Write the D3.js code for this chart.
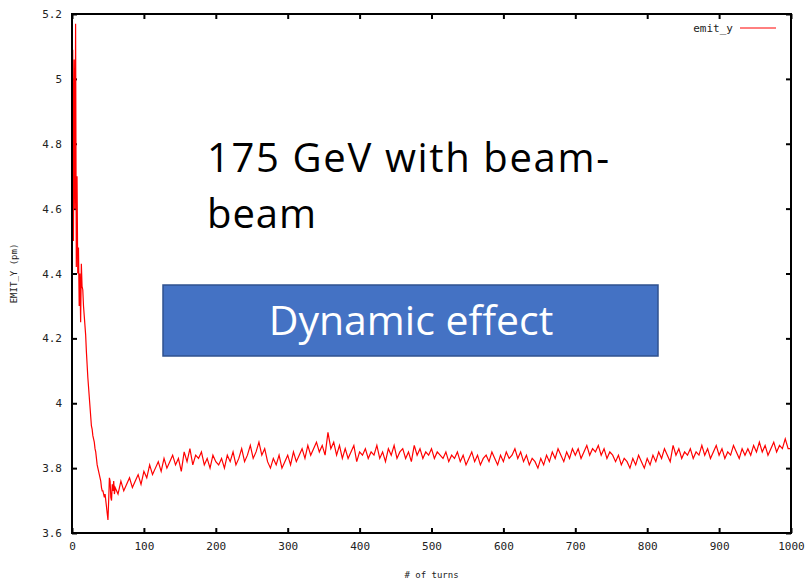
<!DOCTYPE html>
<html>
<head>
<meta charset="utf-8">
<script src="https://cdn.jsdelivr.net/npm/d3@7"></script>
<style>
  body { margin: 0; background: #fff; }
  svg { display: block; }
  .tick text { font-family: "DejaVu Sans Mono", monospace; font-size: 11px; fill: #222; }
</style>
</head>
<body>
<div id="chart"></div>
<script>
// emit_y vs turns
// turns 0..59, one value per turn
var emitEarly = [3.90, 5.09, 4.50, 5.06, 4.60, 5.17, 4.42, 4.70, 4.40, 4.48,
    4.30, 4.40, 4.25, 4.43, 4.36, 4.35, 4.30, 4.27, 4.24, 4.21,
    4.16, 4.12, 4.08, 4.05, 4.02, 3.99, 3.96, 3.93, 3.92, 3.90,
    3.89, 3.88, 3.86, 3.85, 3.83, 3.81, 3.80, 3.79, 3.78, 3.77,
    3.76, 3.74, 3.73, 3.73, 3.72, 3.71, 3.72, 3.70, 3.68, 3.66,
    3.64, 3.70, 3.77, 3.76, 3.71, 3.70, 3.75, 3.73, 3.76, 3.72];

// turns 60..1000, every 4 turns
var lateStart = 60, lateStep = 4;
var emitLate = [3.74, 3.72, 3.76, 3.73, 3.75, 3.77, 3.74, 3.76, 3.78, 3.75,
    3.79, 3.77, 3.81, 3.78, 3.80, 3.82, 3.79, 3.83, 3.80, 3.82,
    3.84, 3.81, 3.83, 3.79, 3.85, 3.82, 3.86, 3.81, 3.84, 3.83,
    3.85, 3.81, 3.83, 3.80, 3.84, 3.82, 3.81, 3.83, 3.80, 3.84,
    3.82, 3.85, 3.81, 3.83, 3.86, 3.82, 3.84, 3.87, 3.83, 3.85,
    3.88, 3.84, 3.86, 3.82, 3.80, 3.83, 3.81, 3.84, 3.80, 3.82,
    3.84, 3.81, 3.85, 3.82, 3.84, 3.86, 3.83, 3.87, 3.84, 3.86,
    3.88, 3.85, 3.87, 3.84, 3.91, 3.86, 3.88, 3.84, 3.87, 3.83,
    3.86, 3.83, 3.85, 3.87, 3.82, 3.85, 3.84, 3.86, 3.83, 3.85,
    3.84, 3.87, 3.83, 3.85, 3.82, 3.86, 3.84, 3.87, 3.83, 3.85,
    3.86, 3.83, 3.85, 3.82, 3.87, 3.84, 3.86, 3.83, 3.85, 3.84,
    3.86, 3.83, 3.85, 3.84, 3.83, 3.85, 3.82, 3.84, 3.83, 3.85,
    3.82, 3.84, 3.81, 3.83, 3.85, 3.82, 3.84, 3.81, 3.83, 3.84,
    3.82, 3.85, 3.83, 3.81, 3.84, 3.82, 3.85, 3.83, 3.84, 3.86,
    3.83, 3.85, 3.82, 3.84, 3.81, 3.83, 3.82, 3.80, 3.83, 3.81,
    3.84, 3.82, 3.85, 3.83, 3.86, 3.84, 3.82, 3.85, 3.83, 3.86,
    3.84, 3.86, 3.83, 3.85, 3.87, 3.84, 3.86, 3.85, 3.87, 3.84,
    3.86, 3.83, 3.85, 3.84, 3.82, 3.84, 3.81, 3.83, 3.82, 3.80,
    3.83, 3.81, 3.84, 3.82, 3.80, 3.83, 3.81, 3.84, 3.82, 3.85,
    3.83, 3.86, 3.84, 3.82, 3.87, 3.84, 3.86, 3.83, 3.85, 3.84,
    3.86, 3.83, 3.85, 3.84, 3.87, 3.84, 3.86, 3.83, 3.85, 3.87,
    3.84, 3.86, 3.83, 3.85, 3.84, 3.87, 3.85, 3.83, 3.86, 3.84,
    3.86, 3.84, 3.87, 3.85, 3.88, 3.85, 3.87, 3.84, 3.86, 3.88,
    3.85, 3.87, 3.86, 3.89, 3.86, 3.86];

var xTicks = [0, 100, 200, 300, 400, 500, 600, 700, 800, 900, 1000];
var yTicks = [3.6, 3.8, 4, 4.2, 4.4, 4.6, 4.8, 5, 5.2];

var data = [];
for (var i = 0; i < emitEarly.length; i++) data.push({ t: i, v: emitEarly[i] });
for (var i = 0; i < emitLate.length; i++) data.push({ t: Math.min(lateStart + i * lateStep, 1000), v: emitLate[i] });

var width = 811, height = 582;
var margin = { left: 72, right: 20, top: 14, bottom: 49 };

var x = d3.scaleLinear().domain([0, 1000]).range([margin.left, width - margin.right]);
var y = d3.scaleLinear().domain([3.6, 5.2]).range([height - margin.bottom, margin.top]);

var svg = d3.select("#chart").append("svg")
    .attr("width", width)
    .attr("height", height);

// gnuplot style ticks on all four sides, pointing in
var tl = 5;
svg.append("g")
    .attr("transform", "translate(0," + y(3.6) + ")")
    .call(d3.axisBottom(x).tickValues(xTicks).tickFormat(d3.format("d")).tickSizeInner(-tl).tickSizeOuter(0).tickPadding(9))
    .call(function (g) { g.select(".domain").remove(); });
svg.append("g")
    .attr("transform", "translate(0," + y(5.2) + ")")
    .call(d3.axisTop(x).tickValues(xTicks).tickFormat("").tickSizeInner(-tl).tickSizeOuter(0))
    .call(function (g) { g.select(".domain").remove(); });
svg.append("g")
    .attr("transform", "translate(" + x(0) + ",0)")
    .call(d3.axisLeft(y).tickValues(yTicks).tickFormat(function (d) { return String(+d.toFixed(1)); }).tickSizeInner(-tl).tickSizeOuter(0).tickPadding(10))
    .call(function (g) { g.select(".domain").remove(); });
svg.append("g")
    .attr("transform", "translate(" + x(1000) + ",0)")
    .call(d3.axisRight(y).tickValues(yTicks).tickFormat("").tickSizeInner(-tl).tickSizeOuter(0))
    .call(function (g) { g.select(".domain").remove(); });
svg.selectAll(".tick line").attr("stroke", "#000").attr("stroke-width", 2);

var line = d3.line()
    .x(function (d) { return x(d.t); })
    .y(function (d) { return y(d.v); });

svg.append("path")
    .datum(data)
    .attr("fill", "none")
    .attr("stroke", "#ff0000")
    .attr("stroke-width", 1.2)
    .attr("d", line);

// frame
svg.append("rect")
    .attr("x", x(0)).attr("y", y(5.2))
    .attr("width", x(1000) - x(0)).attr("height", y(3.6) - y(5.2))
    .attr("fill", "none").attr("stroke", "#000").attr("stroke-width", 2);

// axis titles
svg.append("text")
    .attr("transform", "translate(17," + (y(4.4)) + ") rotate(-90)")
    .attr("text-anchor", "middle")
    .style("font-family", "DejaVu Sans Mono, monospace").style("font-size", "9px").style("fill", "#222")
    .text("EMIT_Y (pm)");
svg.append("text")
    .attr("x", x(500)).attr("y", 578)
    .attr("text-anchor", "middle")
    .style("font-family", "DejaVu Sans Mono, monospace").style("font-size", "9px").style("fill", "#222")
    .text("# of turns");

// legend
svg.append("text")
    .attr("x", 733).attr("y", 32)
    .attr("text-anchor", "end")
    .style("font-family", "DejaVu Sans Mono, monospace").style("font-size", "11px").style("fill", "#222")
    .text("emit_y");
svg.append("line")
    .attr("x1", 740).attr("x2", 776).attr("y1", 28).attr("y2", 28)
    .attr("stroke", "#ff0000").attr("stroke-width", 1);

// slide annotations
svg.append("text")
    .attr("x", 207).attr("y", 172)
    .attr("textLength", 402).attr("lengthAdjust", "spacing")
    .style("font-family", "Open Sans, sans-serif").style("font-size", "40px").style("fill", "#000")
    .text("175 GeV with beam-");
svg.append("text")
    .attr("x", 207).attr("y", 228)
    .attr("textLength", 109).attr("lengthAdjust", "spacing")
    .style("font-family", "Open Sans, sans-serif").style("font-size", "40px").style("fill", "#000")
    .text("beam");

svg.append("rect")
    .attr("x", 163).attr("y", 285)
    .attr("width", 495).attr("height", 71)
    .attr("fill", "#4472c4").attr("stroke", "#2f528f").attr("stroke-width", 1.5);
svg.append("text")
    .attr("x", 411).attr("y", 335)
    .attr("text-anchor", "middle")
    .style("font-family", "Open Sans, sans-serif").style("font-size", "41px").style("fill", "#fff")
    .text("Dynamic effect");
</script>
</body>
</html>
